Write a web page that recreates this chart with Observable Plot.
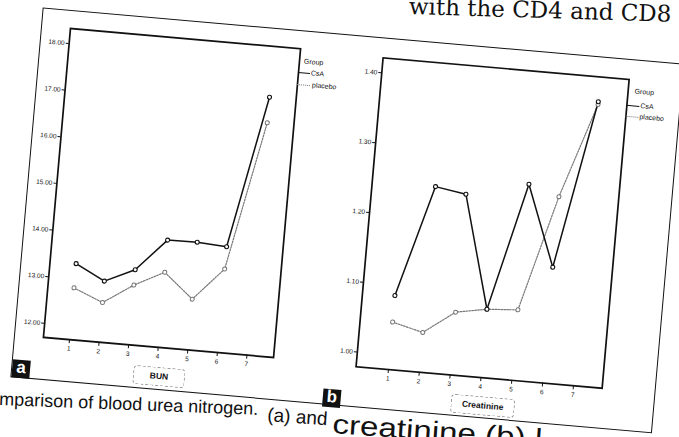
<!DOCTYPE html>
<html><head><meta charset="utf-8">
<script src="https://cdn.jsdelivr.net/npm/d3@7"></script>
<script src="https://cdn.jsdelivr.net/npm/@observablehq/plot@0.6"></script>
<style>
html,body{margin:0;padding:0;background:#fff;}
body{width:679px;height:437px;overflow:hidden;position:relative;font-family:"Liberation Sans",Arial,sans-serif;}
#fig{position:absolute;left:70px;top:28px;width:700px;height:400px;transform-origin:0 0;transform:rotate(5deg);}
#fig svg{max-width:none !important;}
.abs{position:absolute;}
.outer{left:-29px;top:-18.5px;width:644px;height:371px;border:1.3px solid #111;box-sizing:border-box;}
.tag{width:18px;height:18px;background:#111;color:#fff;font-weight:bold;font-size:17px;line-height:15px;text-align:center;}
.lab{border:1px dashed #999;border-radius:4px;font-weight:bold;font-size:8.5px;line-height:17px;text-align:center;box-sizing:border-box;color:#111;}
.leg{font-size:7px;color:#111;white-space:nowrap;line-height:8px;}
.ls{height:0;border-top:1px solid #111;}
.ld{height:0;border-top:1px dotted #777;}
#page{position:absolute;left:0;top:0;}
</style></head>
<body>
<div id="fig">
  <div class="abs outer"></div>
  <div id="pa" class="abs" style="left:-40px;top:-5px;width:276px;height:345px"></div>
  <div id="pb" class="abs" style="left:274px;top:-3.5px;width:292px;height:345px"></div>
  <div class="abs leg" style="left:236px;top:9px">Group</div>
  <div class="abs ls" style="left:231px;top:23.6px;width:12px"></div>
  <div class="abs leg" style="left:244px;top:19.6px">CsA</div>
  <div class="abs ld" style="left:231px;top:35.6px;width:13px"></div>
  <div class="abs leg" style="left:246px;top:31.6px">placebo</div>
  <div class="abs leg" style="left:568px;top:10px">Group</div>
  <div class="abs ls" style="left:561px;top:27.8px;width:13px"></div>
  <div class="abs leg" style="left:575px;top:23.8px">CsA</div>
  <div class="abs ld" style="left:561px;top:39px;width:13px"></div>
  <div class="abs leg" style="left:575px;top:35px">placebo</div>
  <div class="abs lab" style="left:93px;top:329.5px;width:52px;height:19px">BUN</div>
  <div class="abs lab" style="left:412px;top:330.5px;width:64px;height:19px">Creatinine</div>
  <div class="abs tag" style="left:-28px;top:335px">a</div>
  <div class="abs tag" style="left:284px;top:337px">b</div>
</div>
<svg id="page" width="679" height="437" style="pointer-events:none">
  <g transform="rotate(1.7 512 17)" fill="#111" font-family="DejaVu Serif" font-size="23">
    <text x="504.7" y="17" text-anchor="end">with the</text>
    <text x="512" y="17">CD4 and CD8 a</text>
  </g>
  <g fill="#111" font-family="Liberation Sans">
    <text transform="rotate(2.2 -1 405)" x="-1" y="405" font-size="18">mparison of blood urea nitrogen.</text>
    <text transform="rotate(4 267 421)" x="267" y="421" font-size="19">(a) and</text>
    <text transform="rotate(4 332 433)" x="332" y="433" font-size="27" textLength="210" lengthAdjust="spacingAndGlyphs">creatinine (b) l</text>
  </g>
</svg>
<script>
const weeks = [1, 2, 3, 4, 5, 6, 7];
const groups = ["CsA", "placebo"];
const bunCsA = [13.33, 13.01, 13.31, 14.00, 14.01, 13.97, 17.23];
const bunPlacebo = [12.81, 12.55, 12.98, 13.31, 12.79, 13.49, 16.68];
const creCsA = [1.085, 1.245, 1.238, 1.077, 1.260, 1.145, 1.386];
const crePlacebo = [1.047, 1.036, 1.069, 1.077, 1.080, 1.246, 1.382];
const bunTicks = [12, 13, 14, 15, 16, 17, 18];
const creTicks = [1.0, 1.1, 1.2, 1.3, 1.4];

function rows(csa, pla) {
  return [
    ...weeks.map((w, i) => ({x: w, y: csa[i], g: groups[0]})),
    ...weeks.map((w, i) => ({x: w, y: pla[i], g: groups[1]}))
  ];
}

function panel(data, xDomain, yDomain, yTicks, frameW) {
  const A = data.filter(d => d.g === "CsA");
  const P = data.filter(d => d.g === "placebo");
  return Plot.plot({
    width: 40 + frameW + 5,
    height: 345,
    marginLeft: 40, marginRight: 5, marginTop: 5, marginBottom: 30,
    x: {domain: xDomain},
    y: {domain: yDomain},
    style: {background: "transparent", fontFamily: "Liberation Sans", fontSize: "6.5px", color: "#111", overflow: "visible", maxWidth: "none"},
    marks: [
      Plot.axisY(yTicks, {tickSize: 3, tickPadding: 1.5, fontSize: 6.5, tickFormat: d => d.toFixed(2), label: null, strokeWidth: 1}),
      Plot.axisX(weeks, {tickSize: 4, tickPadding: 2.5, fontSize: 6.5, tickFormat: d => String(d), label: null, strokeWidth: 1}),
      Plot.line(P, {x: "x", y: "y", stroke: "#777", strokeWidth: 1.2, strokeDasharray: "1.6,1.3"}),
      Plot.line(A, {x: "x", y: "y", stroke: "#111", strokeWidth: 1.5}),
      Plot.dot(P, {x: "x", y: "y", r: 2, fill: "white", stroke: "#777", strokeWidth: 1}),
      Plot.dot(A, {x: "x", y: "y", r: 2, fill: "white", stroke: "#111", strokeWidth: 1.1}),
      Plot.frame({stroke: "#111", strokeWidth: 1.7})
    ]
  });
}

document.getElementById("pa").append(panel(rows(bunCsA, bunPlacebo), [0.12, 7.9], [11.7, 18.32], bunTicks, 231));
document.getElementById("pb").append(panel(rows(creCsA, crePlacebo), [-0.05, 7.93], [0.979, 1.4215], creTicks, 247));
</script>
</body></html>
